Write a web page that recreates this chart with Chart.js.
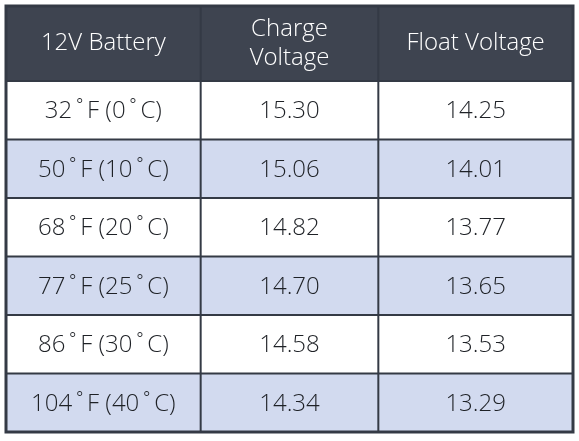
<!DOCTYPE html>
<html><head><meta charset="utf-8">
<script src="https://cdn.jsdelivr.net/npm/chart.js@4/dist/chart.umd.min.js"></script>
<style>html,body{margin:0;padding:0;background:#fff}#w{width:579px;height:441px}</style>
</head><body><div id="w"><canvas id="c"></canvas></div>
<script>
const headers = ["12V Battery", "Charge\nVoltage", "Float Voltage"];
const temperatures = ["32\u2009˚\u2009F (0\u2009˚\u2009C)", "50\u2009˚\u2009F (10\u2009˚\u2009C)", "68\u2009˚\u2009F (20\u2009˚\u2009C)", "77\u2009˚\u2009F (25\u2009˚\u2009C)", "86\u2009˚\u2009F (30\u2009˚\u2009C)", "104\u2009˚\u2009F (40\u2009˚\u2009C)"];
const chargeVoltage = [15.30, 15.06, 14.82, 14.70, 14.58, 14.34];
const floatVoltage = [14.25, 14.01, 13.77, 13.65, 13.53, 13.29];

const colEdges = [0, 1.03, 1.97, 3];
const headerH = 1.28;

const tablePlugin = {
  id: 'table',
  afterDraw(chart) {
    const ctx = chart.ctx, xs = chart.scales.x, ys = chart.scales.y;
    const X = v => xs.getPixelForValue(v), Y = v => ys.getPixelForValue(v);
    const rowEdge = i => i === 0 ? 0 : headerH + (i - 1);
    const nRows = temperatures.length + 1;
    ctx.save();
    ctx.fillStyle = '#3e4450';
    ctx.fillRect(X(0), Y(0), X(3) - X(0), Y(headerH) - Y(0));
    for (let r = 0; r < temperatures.length; r++) {
      ctx.fillStyle = r % 2 ? '#d2daef' : '#ffffff';
      const y0 = Y(rowEdge(r + 1)), y1 = Y(rowEdge(r + 2));
      ctx.fillRect(X(0), y0, X(3) - X(0), y1 - y0);
    }
    ctx.textAlign = 'center'; ctx.textBaseline = 'middle';
    ctx.font = '300 24px "Open Sans"';
    for (let c = 0; c < 3; c++) {
      const cx = (X(colEdges[c]) + X(colEdges[c + 1])) / 2;
      const cy = (Y(0) + Y(headerH)) / 2;
      const lines = headers[c].split('\n');
      ctx.fillStyle = '#ffffff';
      lines.forEach((l, i) => ctx.fillText(l, cx, cy + (i - (lines.length - 1) / 2) * 29));
      for (let r = 0; r < temperatures.length; r++) {
        const vals = [temperatures[r], chargeVoltage[r].toFixed(2), floatVoltage[r].toFixed(2)];
        const y = (Y(rowEdge(r + 1)) + Y(rowEdge(r + 2))) / 2;
        ctx.fillStyle = '#1e2126';
        ctx.fillText(vals[c], cx, y + 1);
      }
    }
    ctx.strokeStyle = '#343a45'; ctx.lineWidth = 2;
    for (let i = 1; i < nRows; i++) {
      ctx.beginPath(); ctx.moveTo(X(0), Y(rowEdge(i))); ctx.lineTo(X(3), Y(rowEdge(i))); ctx.stroke();
    }
    for (let c = 1; c < 3; c++) {
      ctx.beginPath(); ctx.moveTo(X(colEdges[c]), Y(0)); ctx.lineTo(X(colEdges[c]), Y(rowEdge(nRows))); ctx.stroke();
    }
    ctx.lineWidth = 3;
    ctx.strokeRect(X(0), Y(0), X(3) - X(0), Y(rowEdge(nRows)) - Y(0));
    ctx.restore();
  }
};

new Chart(document.getElementById('c'), {
  type: 'scatter',
  data: { datasets: [{ data: [] }] },
  options: {
    responsive: true, maintainAspectRatio: false, animation: false,
    layout: { padding: { left: 6, right: 6, top: 6, bottom: 9 } },
    plugins: { legend: { display: false }, tooltip: { enabled: false } },
    scales: {
      x: { type: 'linear', min: 0, max: 3, display: false },
      y: { type: 'linear', min: 0, max: headerH + temperatures.length, reverse: true, display: false }
    }
  },
  plugins: [tablePlugin]
});
</script></body></html>
